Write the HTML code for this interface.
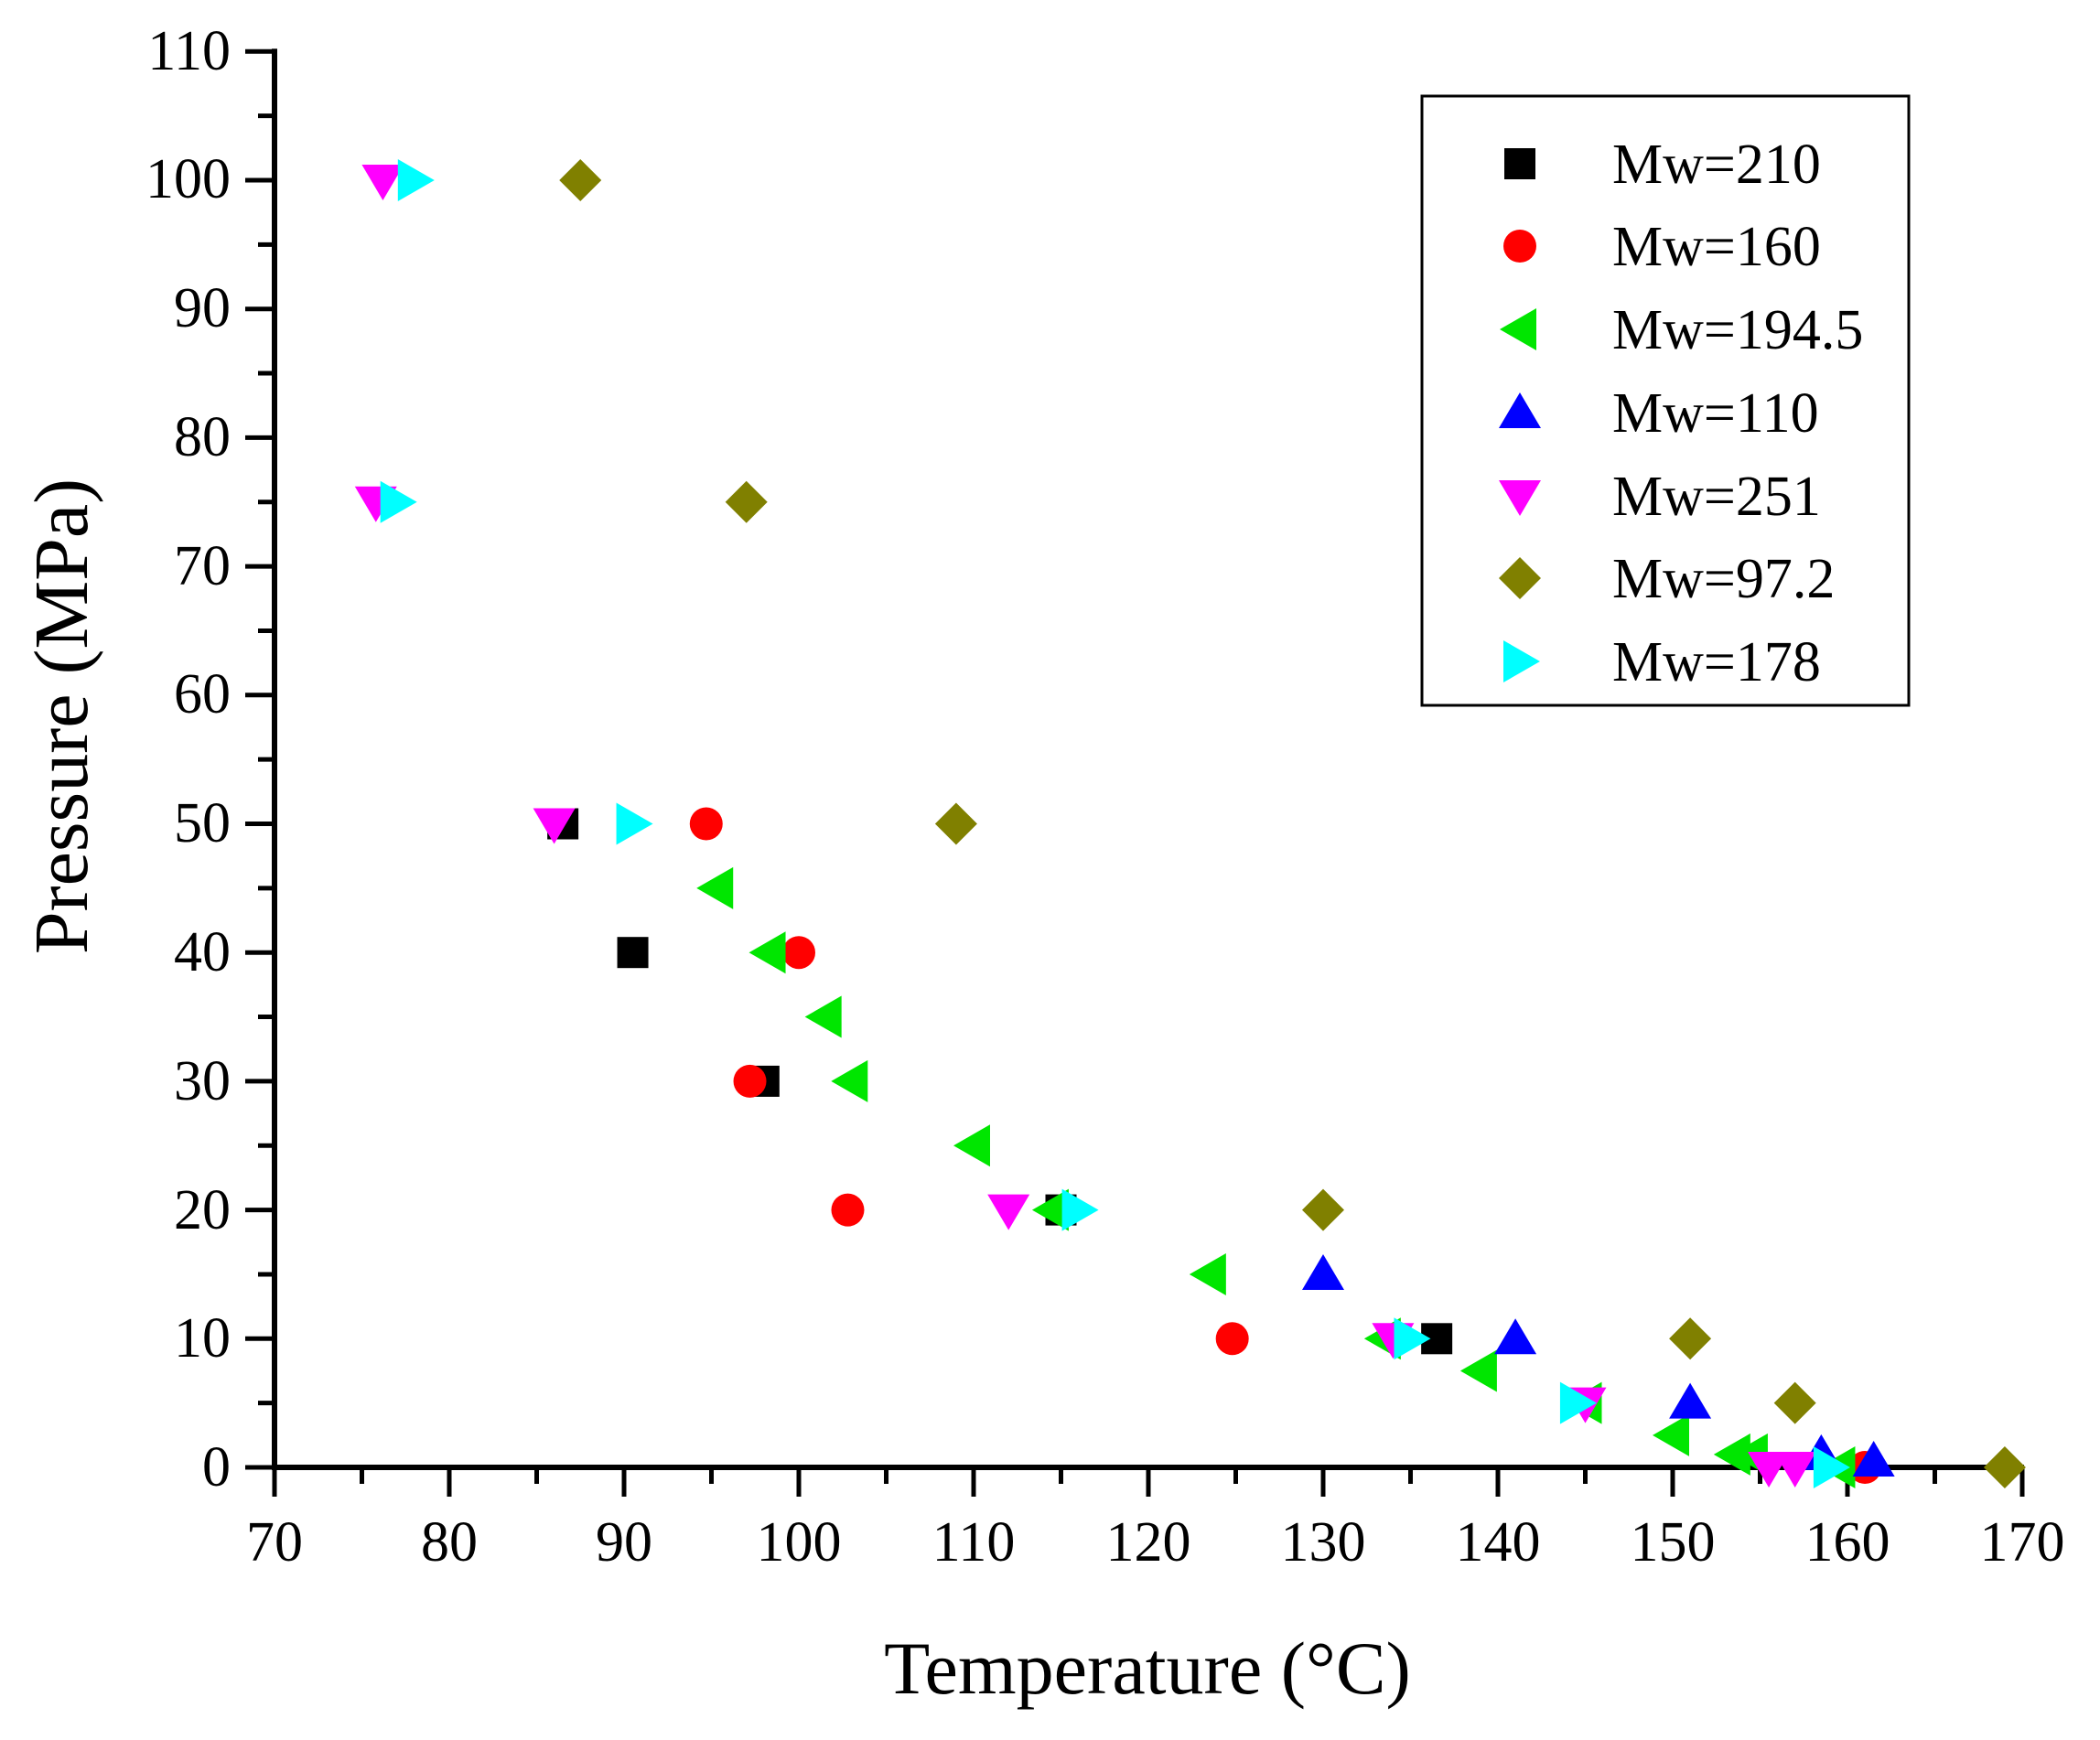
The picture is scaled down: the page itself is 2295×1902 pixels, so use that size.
<!DOCTYPE html>
<html><head><meta charset="utf-8"><style>
html,body{margin:0;padding:0;background:#fff;}
body{position:relative;width:2295px;height:1902px;overflow:hidden;}
svg{display:block;position:absolute;left:0;top:0;}
.t{position:absolute;font-family:"Liberation Serif","Times New Roman",serif;font-size:62px;line-height:62px;height:62px;color:#000;white-space:nowrap;}
.xc{width:200px;text-align:center;top:1655px;}
.yr{width:200px;text-align:right;left:52px;}
.lg{left:1762px;}
</style></head><body>
<svg id="s" width="2295" height="1902" viewBox="0 0 2295 1902" xmlns="http://www.w3.org/2000/svg">
<rect width="2295" height="1902" fill="#fff"/>
<g id="ax"></g>
<g id="pts"></g>
<rect x="1554" y="105" width="532" height="666" fill="#fff" stroke="#000" stroke-width="3"/>
<g id="leg"></g>
<text x="1254" y="1851" font-size="82" text-anchor="middle" font-family="Liberation Serif, serif">Temperature (°C)</text>
<text transform="translate(95,783) rotate(-90)" font-size="84" text-anchor="middle" font-family="Liberation Serif, serif">Pressure (MPa)</text>
</svg>
<div class="t xc" style="left:200px">70</div><div class="t xc" style="left:391px">80</div><div class="t xc" style="left:582px">90</div>
<div class="t xc" style="left:773px">100</div><div class="t xc" style="left:964px">110</div><div class="t xc" style="left:1155px">120</div>
<div class="t xc" style="left:1346px">130</div><div class="t xc" style="left:1537px">140</div><div class="t xc" style="left:1728px">150</div>
<div class="t xc" style="left:1919px">160</div><div class="t xc" style="left:2110px">170</div>
<div class="t yr" style="top:1573px">0</div><div class="t yr" style="top:1432px">10</div><div class="t yr" style="top:1292px">20</div>
<div class="t yr" style="top:1151px">30</div><div class="t yr" style="top:1010px">40</div><div class="t yr" style="top:869px">50</div>
<div class="t yr" style="top:728px">60</div><div class="t yr" style="top:588px">70</div><div class="t yr" style="top:447px">80</div>
<div class="t yr" style="top:306px">90</div><div class="t yr" style="top:165px">100</div><div class="t yr" style="top:25px">110</div>
<div class="t lg" style="top:149px">Mw=210</div><div class="t lg" style="top:239px">Mw=160</div><div class="t lg" style="top:330px">Mw=194.5</div>
<div class="t lg" style="top:421px">Mw=110</div><div class="t lg" style="top:512px">Mw=251</div><div class="t lg" style="top:602px">Mw=97.2</div>
<div class="t lg" style="top:693px">Mw=178</div>
<script>
const NS="http://www.w3.org/2000/svg";
const X=t=>300+(t-70)*19.1, Y=p=>1604-p*14.07;
function el(tag,a,par){const e=document.createElementNS(NS,tag);for(const k in a)e.setAttribute(k,a[k]);document.getElementById(par).appendChild(e);return e;}
el('line',{x1:300,y1:Y(0),x2:2212,y2:Y(0),stroke:'#000','stroke-width':6},'ax');
el('line',{x1:300,y1:Y(0)+3,x2:300,y2:Y(110)-3,stroke:'#000','stroke-width':6},'ax');
for(let t=70;t<=170;t+=5){const maj=t%10==0;el('line',{x1:X(t),y1:Y(0),x2:X(t),y2:Y(0)+(maj?32:18),stroke:'#000','stroke-width':5},'ax');}
for(let p=0;p<=110;p+=5){const maj=p%10==0;el('line',{x1:300,y1:Y(p),x2:300-(maj?32:18),y2:Y(p),stroke:'#000','stroke-width':5},'ax');}
function mk(type,x,y,par){const s=17;
 if(type=='sq')el('rect',{x:x-s,y:y-s,width:2*s,height:2*s,fill:'#000'},par);
 else if(type=='ci')el('circle',{cx:x,cy:y,r:18,fill:'#ff0000'},par);
 else if(type=='L')el('polygon',{points:`${x-22},${y} ${x+18},${y-23} ${x+18},${y+23}`,fill:'#00e600'},par);
 else if(type=='U')el('polygon',{points:`${x},${y-22} ${x-23},${y+17} ${x+23},${y+17}`,fill:'#0000ff'},par);
 else if(type=='D')el('polygon',{points:`${x},${y+22} ${x-23},${y-17} ${x+23},${y-17}`,fill:'#ff00ff'},par);
 else if(type=='di')el('polygon',{points:`${x},${y-23} ${x+23},${y} ${x},${y+23} ${x-23},${y}`,fill:'#808000'},par);
 else if(type=='R')el('polygon',{points:`${x+22},${y} ${x-18},${y-23} ${x-18},${y+23}`,fill:'#00ffff'},par);}
const data={
 sq:[[86.5,50],[90.5,40],[98,30],[115,20],[136.5,10]],
 ci:[[94.7,50],[100,40],[97.2,30],[102.8,20],[124.8,10],[161,0]],
 L:[[95.3,45],[98.3,40],[101.5,35],[103,30],[110,25],[114.5,20],[123.5,15],[133.5,10],[139,7.5],[145,5],[150,2.5],[153.5,1],[154.5,1],[159.5,0]],
 U:[[130,15],[141,10],[151,5],[158.5,1],[161.5,0.5]],
 D:[[76.2,100],[75.8,75],[86,50],[112,20],[134,10],[145,5],[155.5,0],[157,0]],
 di:[[87.5,100],[97,75],[109,50],[130,20],[151,10],[157,5],[169,0]],
 R:[[78,100],[77,75],[90.5,50],[116,20],[135,10],[144.5,5],[159,0]]};
for(const k in data)for(const [t,p] of data[k])mk(k,X(t),Y(p),'pts');
const leg=['sq','ci','L','U','D','di','R'];
const ry=[179,269,360,451,542,632,723];
leg.forEach((l,i)=>mk(l,1661,ry[i],'leg'));
</script>
</body></html>
